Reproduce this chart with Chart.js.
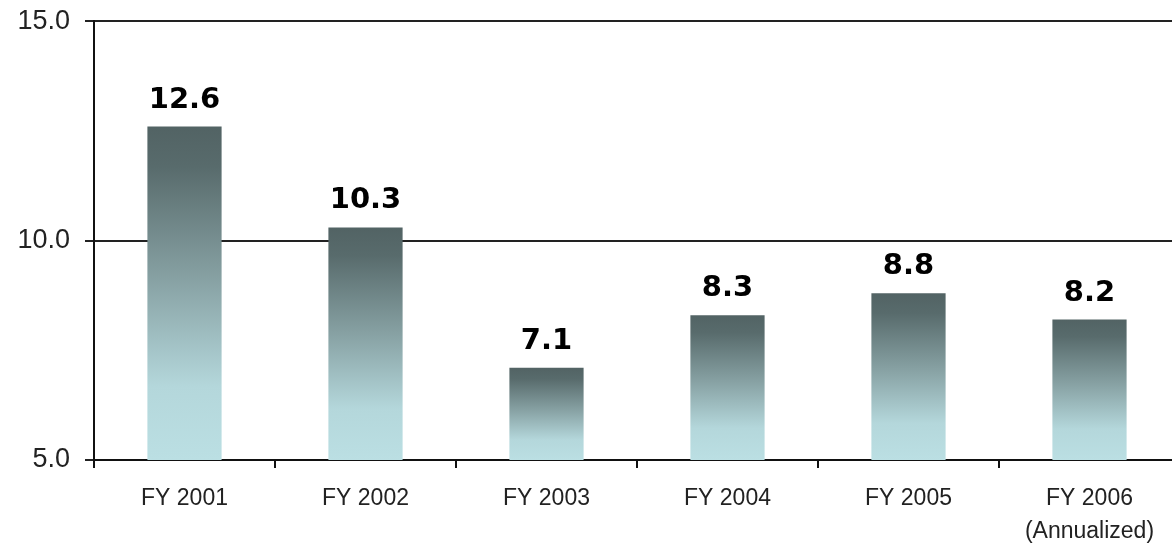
<!DOCTYPE html>
<html>
<head>
<meta charset="utf-8">
<script src="https://cdn.jsdelivr.net/npm/chart.js@4"></script>
<style>
  html, body { margin: 0; padding: 0; background: #fff; overflow: hidden; }
  #wrap { width: 1180px; height: 558px; margin-top: -10px; }
</style>
</head>
<body>
<div id="wrap"><canvas id="myBarChart"></canvas></div>
<script>
const categories = [['FY 2001'], ['FY 2002'], ['FY 2003'], ['FY 2004'], ['FY 2005'], ['FY 2006', '(Annualized)']];
const values = [12.6, 10.3, 7.1, 8.3, 8.8, 8.2];
const yTicks = [5, 10, 15];

// gradient per bar, dark on top, light at the bottom
function barGradient(context) {
    const chart = context.chart;
    const y = chart.scales.y;
    if (!y || !chart.chartArea) return '#8fa9ab';
    const top = y.getPixelForValue(values[context.dataIndex]);
    const bottom = y.getPixelForValue(y.min);
    const g = chart.ctx.createLinearGradient(0, top, 0, bottom);
    g.addColorStop(0, '#526364');
    g.addColorStop(0.12, '#586b6c');
    g.addColorStop(0.45, '#86a0a2');
    g.addColorStop(0.78, '#b4d7db');
    g.addColorStop(1, '#bbdfe3');
    return g;
}

// bold value labels above bars
const valueLabels = {
    id: 'valueLabels',
    afterDatasetsDraw(chart) {
        const ctx = chart.ctx;
        const meta = chart.getDatasetMeta(0);
        ctx.save();
        ctx.font = 'bold 29px "DejaVu Sans", Verdana, sans-serif';
        ctx.fillStyle = '#000';
        ctx.textAlign = 'center';
        ctx.textBaseline = 'alphabetic';
        meta.data.forEach((bar, i) => {
            ctx.fillText(values[i].toFixed(1), bar.x, bar.y - 19);
        });
        ctx.restore();
    }
};

const config = {
    type: 'bar',
    data: {
        labels: categories,
        datasets: [{
            data: values,
            backgroundColor: barGradient,
            borderWidth: 0,
            barPercentage: 0.41,
            categoryPercentage: 1,
        }],
    },
    options: {
        responsive: true,
        maintainAspectRatio: false,
        animation: false,
        layout: { padding: { top: 11, left: 0, right: 0, bottom: 0 } },
        plugins: {
            legend: { display: false },
            tooltip: { enabled: false },
        },
        scales: {
            x: {
                border: { color: '#111', width: 2 },
                grid: { drawOnChartArea: false, drawTicks: true, tickLength: 8, color: '#111', lineWidth: 2 },
                ticks: {
                    color: '#222',
                    padding: 14,
                    font: { family: '"Liberation Sans", Arial, sans-serif', size: 23, lineHeight: 1.43 },
                },
                afterFit(scale) { scale.height = 88; },
            },
            y: {
                min: 5,
                max: 15,
                afterBuildTicks(scale) { scale.ticks = yTicks.map(v => ({ value: v })); },
                border: { color: '#111', width: 2 },
                grid: { color: '#222', lineWidth: 2, tickLength: 9 },
                ticks: {
                    color: '#222',
                    padding: 15,
                    font: { family: '"Liberation Sans", Arial, sans-serif', size: 27 },
                    callback: v => v.toFixed(1),
                },
                afterFit(scale) { scale.width = 94; },
            },
        },
    },
    plugins: [valueLabels],
};

var ctx = document.getElementById('myBarChart').getContext('2d');
var myBarChart = new Chart(ctx, config);
</script>
</body>
</html>
